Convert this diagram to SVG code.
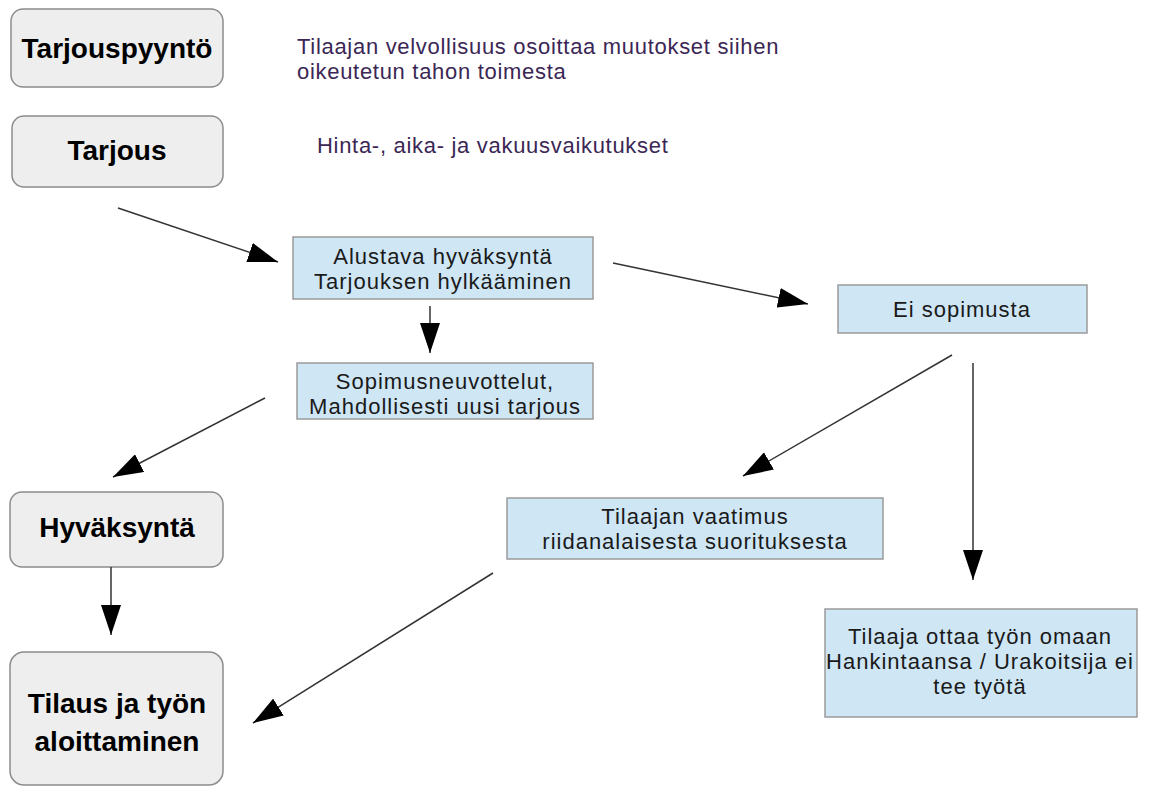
<svg xmlns="http://www.w3.org/2000/svg" width="1152" height="792" viewBox="0 0 1152 792">
<defs>
<style>
.rbox{fill:#eeeeee;stroke:#8c8c8c;stroke-width:1.5}
.bbox{fill:#cfe6f5;stroke:#9a9a9a;stroke-width:1.5}
.bt{font-family:"Liberation Sans",Arial,sans-serif;font-weight:bold;font-size:28px;fill:#000;text-anchor:middle}
.nt{font-family:"Liberation Sans",Arial,sans-serif;font-size:22px;letter-spacing:1px;fill:#1a1a1a;text-anchor:middle}
.note{font-family:"Liberation Sans",Arial,sans-serif;font-size:22px;letter-spacing:0.7px;fill:#3b2755}
.conn{stroke:#333;stroke-width:1.5;fill:none;marker-end:url(#ah)}
</style>
<marker id="ah" markerUnits="userSpaceOnUse" markerWidth="30" markerHeight="20" refX="30" refY="10" orient="auto">
<path d="M0,0 L30,10 L0,20 z" fill="#000"/>
</marker>
</defs>
<rect width="1152" height="792" fill="#fff"/>

<g id="tarjouspyynto">
<rect class="rbox" x="11" y="9" width="212" height="78" rx="12"/>
<text class="bt" x="117" y="58">Tarjouspyyntö</text>
</g>
<g id="tarjous">
<rect class="rbox" x="12" y="116" width="211" height="71" rx="12"/>
<text class="bt" x="117" y="160">Tarjous</text>
</g>
<g id="note1">
<text class="note" x="297" y="54">Tilaajan velvollisuus osoittaa muutokset siihen</text>
<text class="note" x="297" y="79">oikeutetun tahon toimesta</text>
</g>
<g id="note2">
<text class="note" x="317" y="153">Hinta-, aika- ja vakuusvaikutukset</text>
</g>
<g id="alustava">
<rect class="bbox" x="293" y="237" width="300" height="62"/>
<text class="nt" x="443" y="264">Alustava hyväksyntä</text>
<text class="nt" x="443" y="289">Tarjouksen hylkääminen</text>
</g>
<g id="sopimusneuvottelut">
<rect class="bbox" x="297" y="363" width="296" height="56"/>
<text class="nt" x="445" y="389">Sopimusneuvottelut,</text>
<text class="nt" x="445" y="414">Mahdollisesti uusi tarjous</text>
</g>
<g id="eisopimusta">
<rect class="bbox" x="838" y="285" width="249" height="48"/>
<text class="nt" x="962" y="317">Ei sopimusta</text>
</g>
<g id="hyvaksynta">
<rect class="rbox" x="10" y="492" width="213" height="75" rx="12"/>
<text class="bt" x="117" y="537">Hyväksyntä</text>
</g>
<g id="tilaajanvaatimus">
<rect class="bbox" x="507" y="498" width="376" height="61"/>
<text class="nt" x="695" y="524">Tilaajan vaatimus</text>
<text class="nt" x="695" y="549">riidanalaisesta suorituksesta</text>
</g>
<g id="tilaus">
<rect class="rbox" x="10" y="652" width="213" height="133" rx="14"/>
<text class="bt" x="117" y="713">Tilaus ja työn</text>
<text class="bt" x="117" y="751">aloittaminen</text>
</g>
<g id="tilaajaottaa">
<rect class="bbox" x="825" y="609" width="312" height="108"/>
<text class="nt" x="980" y="644">Tilaaja ottaa työn omaan</text>
<text class="nt" x="980" y="669">Hankintaansa / Urakoitsija ei</text>
<text class="nt" x="980" y="694">tee työtä</text>
</g>

<g id="connectors">
<line class="conn" x1="118" y1="208" x2="278" y2="262"/>
<line class="conn" x1="613" y1="263" x2="808" y2="304"/>
<line class="conn" x1="430" y1="306" x2="430" y2="353"/>
<line class="conn" x1="265" y1="398" x2="113" y2="477"/>
<line class="conn" x1="952" y1="355" x2="743" y2="476"/>
<line class="conn" x1="973" y1="363" x2="973" y2="580"/>
<line class="conn" x1="111" y1="567" x2="111" y2="635"/>
<line class="conn" x1="493" y1="573" x2="253" y2="723"/>
</g>
</svg>
